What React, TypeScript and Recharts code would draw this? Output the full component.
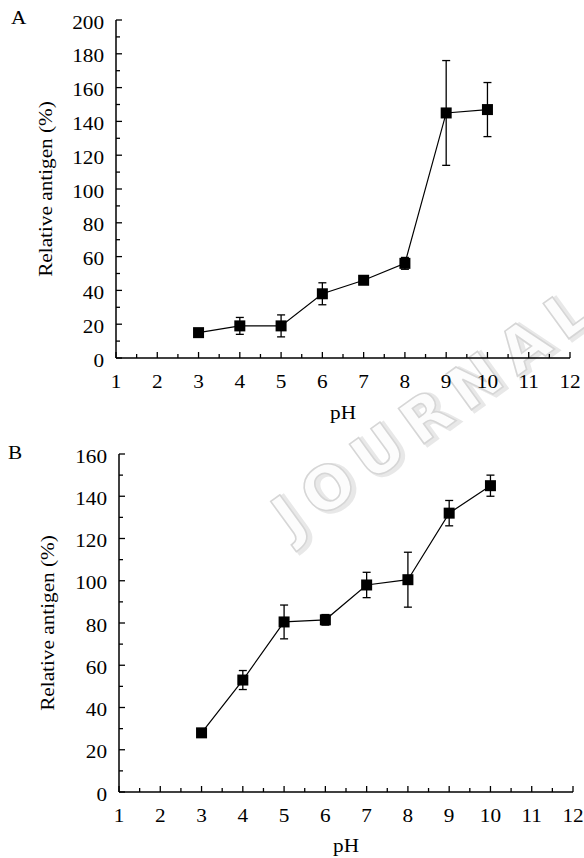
import { ErrorBar, Line, LineChart, XAxis, YAxis } from 'recharts';

const PH = [3, 4, 5, 6, 7, 8, 9, 10];

const ANTIGEN_A = [15, 19, 19, 38, 46, 56, 145, 147];
const ERROR_A = [0, 5, 6.5, 6.5, 0, 3.5, 31, 16];

const ANTIGEN_B = [28, 53, 80.5, 81.5, 98, 100.5, 132, 145];
const ERROR_B = [0, 4.5, 8, 2.5, 6, 13, 6, 5];

const X_TICKS = [1, 1.5, 2, 2.5, 3, 3.5, 4, 4.5, 5, 5.5, 6, 6.5, 7, 7.5, 8, 8.5, 9, 9.5, 10, 10.5, 11, 11.5, 12];
const Y_TICKS_A = [0, 10, 20, 30, 40, 50, 60, 70, 80, 90, 100, 110, 120, 130, 140, 150, 160, 170, 180, 190, 200];
const Y_TICKS_B = [0, 10, 20, 30, 40, 50, 60, 70, 80, 90, 100, 110, 120, 130, 140, 150, 160];

const FONT = 'Liberation Serif, Times New Roman, serif';
const INK = '#000';
const TEXT_STYLE = { fontFamily: FONT, fontSize: 18 };
// the source figure's type is set wide, so stretch along the reading direction
const STRETCH = 1.18;

function toRows(values: number[], errors: number[]) {
  return PH.map((ph, i) => ({ ph, value: values[i], err: errors[i] }));
}

function WideText({ x, y, anchor, rotate = 0, children }: any) {
  return (
    <text
      transform={`translate(${x} ${y}) rotate(${rotate}) scale(${STRETCH} 1)`}
      textAnchor={anchor}
      style={TEXT_STYLE}
      fill={INK}
    >
      {children}
    </text>
  );
}

function XTick({ x, y, payload }: any) {
  const v = payload.value;
  const major = Number.isInteger(v);
  return (
    <g>
      <line x1={x} x2={x} y1={y} y2={y - (major ? 6 : 4)} stroke={INK} strokeWidth={1.3} />
      {major && (
        <WideText x={x} y={y + 30} anchor="middle">
          {v}
        </WideText>
      )}
    </g>
  );
}

function YTick({ x, y, payload }: any) {
  const v = payload.value;
  const major = v % 20 === 0;
  return (
    <g>
      <line x1={x} x2={x + (major ? 6 : 4)} y1={y} y2={y} stroke={INK} strokeWidth={1.3} />
      {major && (
        <WideText x={x - 12} y={y + 8.5} anchor="end">
          {v}
        </WideText>
      )}
    </g>
  );
}

function SquareDot({ cx, cy, index }: any) {
  return <rect key={index} x={cx - 5.5} y={cy - 5.5} width={11} height={11} fill={INK} />;
}

function YTitle({ viewBox, baseX }: any) {
  const cy = viewBox.y + viewBox.height / 2;
  return (
    <WideText x={baseX} y={cy} anchor="middle" rotate={-90}>
      Relative antigen (%)
    </WideText>
  );
}

function XTitle({ viewBox, dy }: any) {
  return (
    <WideText x={viewBox.x + viewBox.width / 2} y={viewBox.y + dy} anchor="middle">
      pH
    </WideText>
  );
}

function Panel({
  letter,
  data,
  yTicks,
  yMax,
  height,
  margin,
  yWidth,
  yTitleX,
  xTitleDy,
  letterPos,
}: {
  letter: string;
  data: { ph: number; value: number; err: number }[];
  yTicks: number[];
  yMax: number;
  height: number;
  margin: { top: number; right: number; left: number; bottom: number };
  yWidth: number;
  yTitleX: number;
  xTitleDy: number;
  letterPos: [number, number];
}) {
  return (
    <div style={{ position: 'relative', width: 584, height }}>
      <span
        style={{
          position: 'absolute',
          left: letterPos[0],
          top: letterPos[1],
          fontFamily: FONT,
          fontSize: 18,
          lineHeight: 1,
          color: INK,
          transform: `scaleX(${STRETCH})`,
          transformOrigin: 'left top',
        }}
      >
        {letter}
      </span>
      <LineChart width={584} height={height} data={data} margin={margin}>
        <XAxis
          type="number"
          dataKey="ph"
          domain={[1, 12]}
          ticks={X_TICKS}
          interval={0}
          tickSize={0}
          tickMargin={0}
          tick={<XTick />}
          tickLine={false}
          axisLine={{ stroke: INK, strokeWidth: 1.5 }}
          height={50}
          label={<XTitle dy={xTitleDy} />}
        />
        <YAxis
          type="number"
          domain={[0, yMax]}
          ticks={yTicks}
          interval={0}
          tickSize={0}
          tickMargin={0}
          tick={<YTick />}
          tickLine={false}
          axisLine={{ stroke: INK, strokeWidth: 1.5 }}
          width={yWidth}
          label={<YTitle baseX={yTitleX} />}
        />
        <Line
          type="linear"
          dataKey="value"
          stroke={INK}
          strokeWidth={1.2}
          dot={SquareDot}
          activeDot={false}
          isAnimationActive={false}
        >
          <ErrorBar dataKey="err" direction="y" width={4} stroke={INK} strokeWidth={1.3} isAnimationActive={false} />
        </Line>
      </LineChart>
    </div>
  );
}

export default function App() {
  const markStyle = { fontFamily: 'DejaVu Sans, sans-serif', fontWeight: 'bold', fontSize: 60, letterSpacing: 12 };
  return (
    <div
      style={{
        position: 'absolute',
        left: 0,
        top: 0,
        width: 584,
        height: 858,
        background: '#fff',
        overflow: 'hidden',
      }}
    >
      <svg width={584} height={858} style={{ position: 'absolute', left: 0, top: 0, pointerEvents: 'none' }}>
        <g transform="rotate(-36 292 540)">
          <text x={294} y={543} style={markStyle} fill="#e8e8e8" stroke="#e8e8e8" strokeWidth={4}>
            JOURNAL
          </text>
          <text x={292} y={540} style={markStyle} fill="#fcfcfc" stroke="#d6d6d6" strokeWidth={1.6}>
            JOURNAL
          </text>
        </g>
      </svg>
      <div style={{ position: 'relative' }}>
        <Panel
          letter="A"
          data={toRows(ANTIGEN_A, ERROR_A)}
          yTicks={Y_TICKS_A}
          yMax={200}
          height={430}
          margin={{ top: 20, right: 14, left: 0, bottom: 22 }}
          yWidth={116}
          yTitleX={52}
          xTitleDy={61}
          letterPos={[11, 9]}
        />
        <Panel
          letter="B"
          data={toRows(ANTIGEN_B, ERROR_B)}
          yTicks={Y_TICKS_B}
          yMax={160}
          height={428}
          margin={{ top: 24, right: 11, left: 0, bottom: 16 }}
          yWidth={119}
          yTitleX={54}
          xTitleDy={60}
          letterPos={[8, 14]}
        />
      </div>
    </div>
  );
}
